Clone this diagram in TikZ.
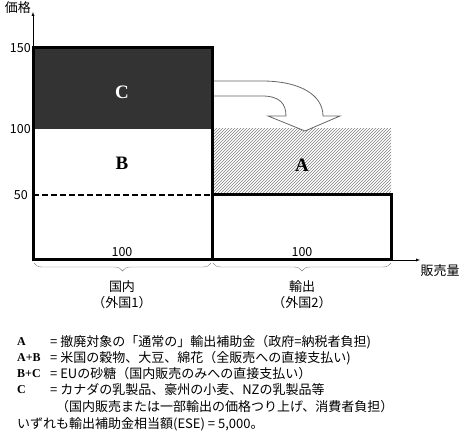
\documentclass[tikz,border=0pt]{standalone}
\usepackage{fontspec}
\setmainfont{Liberation Serif}
\newfontfamily\jp{Noto Sans CJK JP}
\usetikzlibrary{patterns,decorations.pathreplacing}
\tikzstyle{jt}=[font=\jp\fontsize{13}{15}\selectfont, inner sep=0]
\tikzstyle{num}=[font=\jp\fontsize{12.5}{14}\selectfont, inner sep=0]
\tikzstyle{big}=[font=\bfseries\fontsize{19}{22}\selectfont, inner sep=0]
\tikzstyle{key}=[font=\bfseries\fontsize{12}{14}\selectfont, inner sep=0, anchor=west]
\tikzstyle{bx}=[line width=3pt]
\tikzstyle{brc}=[decorate, decoration={brace, mirror, amplitude=8pt}, gray, thin]

\begin{document}
\begin{tikzpicture}[x=1pt, y=-1pt]
\useasboundingbox (0,0) rectangle (467,441);
\coordinate (o) at (33,260);
\coordinate (ytop) at (33,12);
\coordinate (xend) at (420,260);
\coordinate (mid) at (212,260);
\coordinate (rt) at (391,260);
% areas A and C
\fill[pattern=north east lines, pattern color=gray] (212,129) rectangle (391,195);
\fill[black!80] (33,48) rectangle (212,129);
% transfer arrow
\draw[fill=white, draw=black!60, line width=0.8pt] (213,81) -- (262,81)
  .. controls (300,81) and (323,95) .. (323,116) -- (340,116) -- (305,131)
  -- (268,116) -- (286,116) .. controls (286,104) and (280,96) .. (262,96) -- (213,96);
\draw[dash pattern=on 6pt off 3pt, line width=1.4pt] (33,195) -- (212,195);
% boxes
\draw[bx] (33,48) rectangle (212,260);
\draw[bx] (212,195) rectangle (391,260);
\draw[-latex, thin] (o) -- (ytop);
\draw[-latex, thin] (rt) -- (xend);
\node at (18,8)[jt](yl){価格};
\node at (440,271)[jt](xl){販売量};
\node at (31,48)[num, anchor=east](t150){150};
\node at (31,129)[num, anchor=east](t100){100};
\node at (28,195)[num, anchor=east](t50){50};
\node at (122,92)[big, white](c){C};
\node at (122,163)[big](b){B};
\node at (302,165)[big](a){A};
\node at (122,252)[num](q1){100};
\node at (302,252)[num](q2){100};
% braces
\draw[brc] (34,263) -- (211,263);
\draw[brc] (213,263) -- (391,263);
\node at (122,287)[jt](dom){国内};
\node at (122,303)[jt](f1){（外国1）};
\node at (302,287)[jt](exp){輸出};
\node at (302,303)[jt](f2){（外国2）};
% legend
\node at (17,342)[key](k1){A};
\node at (17,358)[key](k2){A+B};
\node at (17,374)[key](k3){B+C};
\node at (17,390)[key](k4){C};
\node at (50,342)[jt, anchor=west](d1){= 撤廃対象の「通常の」輸出補助金（政府=納税者負担)};
\node at (50,358)[jt, anchor=west](d2){= 米国の穀物、大豆、綿花（全販売への直接支払い)};
\node at (50,374)[jt, anchor=west](d3){= EUの砂糖（国内販売のみへの直接支払い）};
\node at (50,390)[jt, anchor=west](d4){= カナダの乳製品、豪州の小麦、NZの乳製品等};
\node at (56,407)[jt, anchor=west](d5){（国内販売または一部輸出の価格つり上げ、消費者負担）};
\node at (17,424)[jt, anchor=west](d6){いずれも輸出補助金相当額(ESE) = 5,000。};
\end{tikzpicture}
\end{document}
